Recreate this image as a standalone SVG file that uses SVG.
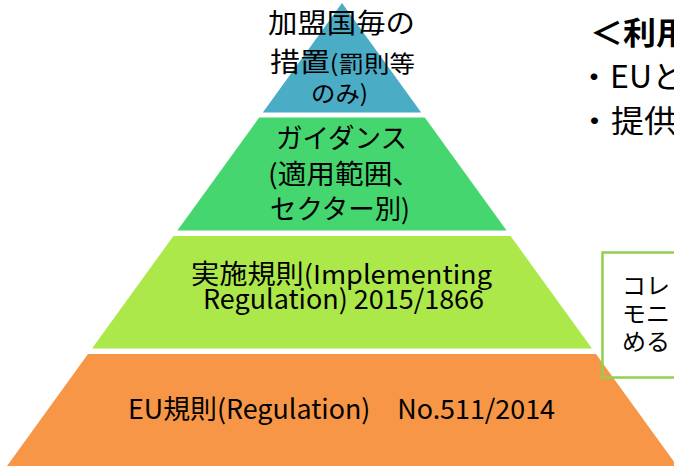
<svg xmlns="http://www.w3.org/2000/svg" width="674" height="470" viewBox="0 0 674 470">
<style>
.t{font-family:"Noto Sans CJK JP","Noto Sans CJK SC",sans-serif;fill:#000;}
.m{font-size:27px;}
.p{font-size:23px;}
.n{font-size:23px;}
.u{font-size:31px;}
.b{font-weight:bold;}
</style>
<rect width="674" height="470" fill="#ffffff"/>
<g id="tier-top">
<polygon points="342,3 421.2,112.5 262.8,112.5" fill="#4BACC6"/>
<text class="t m" x="268" y="33" textLength="147" lengthAdjust="spacingAndGlyphs">加盟国毎の</text>
<text class="t m" x="270" y="72" textLength="145" lengthAdjust="spacingAndGlyphs">措置<tspan class="p">(罰則等</tspan></text>
<text class="t p" x="311" y="102" textLength="57" lengthAdjust="spacingAndGlyphs">のみ)</text>
</g>
<g id="tier-guidance">
<polygon points="259.2,117.5 424.8,117.5 506.6,230.5 177.4,230.5" fill="#45D66F"/>
<text class="t m" x="276" y="148" textLength="131" lengthAdjust="spacingAndGlyphs">ガイダンス</text>
<text class="t m" x="268" y="184" textLength="153" lengthAdjust="spacingAndGlyphs">(適用範囲、</text>
<text class="t m" x="270" y="219" textLength="140" lengthAdjust="spacingAndGlyphs">セクター別)</text>
</g>
<g id="tier-implementing">
<polygon points="173.4,236 510.6,236 592,348.5 92,348.5" fill="#ADE84B"/>
<text class="t m" x="191" y="284" textLength="301" lengthAdjust="spacingAndGlyphs">実施規則<tspan style="font-size:26px">(Implementing</tspan></text>
<text class="t m" x="203" y="309" textLength="281" lengthAdjust="spacingAndGlyphs">Regulation) 2015/1866</text>
</g>
<g id="tier-regulation">
<polygon points="88,354 596,354 677,466 7,466" fill="#F79646"/>
<text class="t m" x="128" y="419" textLength="427" lengthAdjust="spacingAndGlyphs">EU規則(Regulation)　No.511/2014</text>
</g>
<g id="note-box">
<rect x="602.5" y="252.5" width="90" height="125" fill="none" stroke="#92D050" stroke-width="2.5"/>
<text class="t n" x="622" y="294" textLength="48" lengthAdjust="spacingAndGlyphs">コレ</text>
<text class="t n" x="622" y="322" textLength="48" lengthAdjust="spacingAndGlyphs">モニ</text>
<text class="t n" x="622" y="350" textLength="48" lengthAdjust="spacingAndGlyphs">める</text>
</g>
<g id="usage-text">
<text class="t u b" x="590" y="44" textLength="99" lengthAdjust="spacingAndGlyphs">＜利用</text>
<text class="t u" x="578" y="88" textLength="106" lengthAdjust="spacingAndGlyphs">・EUと</text>
<text class="t u" x="578" y="132" textLength="99" lengthAdjust="spacingAndGlyphs">・提供</text>
</g>
</svg>
